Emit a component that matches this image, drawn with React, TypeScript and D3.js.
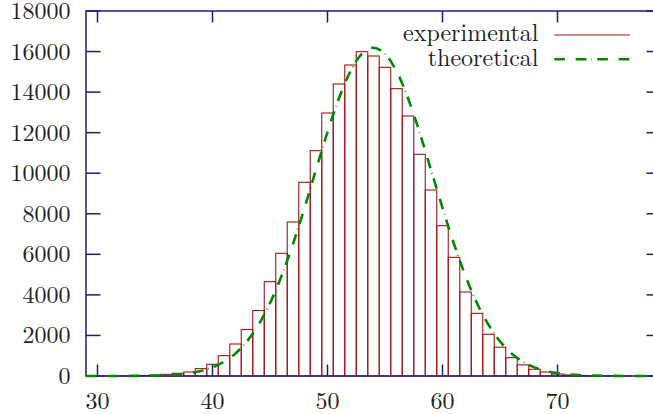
import React from "react";
import * as d3 from "d3";

// Histogram bins (bin centres) and experimental counts
const binCenters = [
  30, 31, 32, 33, 34, 35, 36, 37, 38, 39, 40, 41, 42, 43, 44, 45, 46, 47, 48, 49,
  50, 51, 52, 53, 54, 55, 56, 57, 58, 59, 60, 61, 62, 63, 64, 65, 66, 67, 68, 69,
  70, 71, 72, 73, 74, 75, 76,
];
const experimental = [
  1, 3, 6, 12, 25, 49, 82, 133, 197, 362, 577, 1001, 1578, 2290, 3230, 4652, 6050, 7595, 9552, 11112,
  12970, 14400, 15337, 15995, 15781, 15222, 14170, 12822, 10932, 9173, 7414, 5852, 4142, 3090, 2055, 1420, 904, 550, 329, 197,
  99, 49, 25, 12, 6, 3, 1,
];

// Theoretical curve, read at integer x
const theoryX = [
  29, 30, 31, 32, 33, 34, 35, 36, 37, 38, 39, 40, 41, 42, 43, 44, 45, 46, 47, 48,
  49, 50, 51, 52, 53, 54, 55, 56, 57, 58, 59, 60, 61, 62, 63, 64, 65, 66, 67, 68,
  69, 70, 71, 72, 73, 74, 75, 76, 77, 78, 79,
];
const theoretical = [
  0, 0, 0, 2, 5, 10, 20, 39, 75, 139, 247, 424, 700, 1114, 1710, 2526, 3590, 4930, 6510, 8290,
  10170, 12030, 13700, 15030, 15890, 16190, 15890, 15030, 13700, 12030, 10170, 8290, 6510, 4930, 3590, 2526, 1710, 1114, 700, 424,
  247, 139, 75, 39, 20, 10, 5, 2, 0, 0, 0,
];

const xTicks = [30, 40, 50, 60, 70];
const yTicks = [0, 2000, 4000, 6000, 8000, 10000, 12000, 14000, 16000, 18000];
const legendLabels = ["experimental", "theoretical"];

const W = 653;
const H = 414;
const FONT = "'Latin Modern Roman', 'CMU Serif', 'Liberation Serif', serif";
const AXIS = "#1c1c7e";
const RED = "#a81414";
const GREEN = "#008a00";

export default function App() {
  const x = d3.scaleLinear().domain([29, 79]).range([86, 661]);
  const y = d3.scaleLinear().domain([0, 18000]).range([376, 11]);

  const line = d3
    .line<number>()
    .x((_, i) => x(theoryX[i]))
    .y((d) => y(d))
    .curve(d3.curveCatmullRom);

  const [x0, x1] = x.range();
  const [yb, yt] = y.range();

  return (
    <svg
      width={W}
      height={H}
      style={{ position: "absolute", left: 0, top: 0, display: "block", background: "#fff" }}
    >
      {/* bars */}
      <g>
        {binCenters.map((c, i) => {
          const xa = x(c - 0.5);
          const xb = x(c + 0.5);
          const yv = y(experimental[i]);
          return (
            <rect
              key={c}
              x={xa}
              y={yv}
              width={xb - xa}
              height={yb - yv}
              fill="none"
              stroke={RED}
              strokeWidth={1.1}
            />
          );
        })}
      </g>

      {/* border */}
      <rect x={x0} y={yt} width={x1 - x0} height={yb - yt} fill="none" stroke={AXIS} strokeWidth={1.5} />

      {/* x ticks */}
      {xTicks.map((t) => (
        <g key={"x" + t}>
          <line x1={x(t)} x2={x(t)} y1={yb} y2={yb - 11.5} stroke={AXIS} strokeWidth={1.5} />
          <line x1={x(t)} x2={x(t)} y1={yt} y2={yt + 11.5} stroke={AXIS} strokeWidth={1.5} />
          <text x={x(t)} y={408.5} textAnchor="middle" fontFamily={FONT} fontSize={24} fill="#222">
            {t}
          </text>
        </g>
      ))}

      {/* y ticks */}
      {yTicks.map((t) => (
        <g key={"y" + t}>
          <line x1={x0} x2={x0 + 14.5} y1={y(t)} y2={y(t)} stroke={AXIS} strokeWidth={1.5} />
          <line x1={x1} x2={x1 - 14.5} y1={y(t)} y2={y(t)} stroke={AXIS} strokeWidth={1.5} />
          <text x={70.5} y={y(t) + 8} textAnchor="end" fontFamily={FONT} fontSize={24} fill="#222">
            {t}
          </text>
        </g>
      ))}

      {/* theoretical curve */}
      <path
        d={line(theoretical) || ""}
        fill="none"
        stroke={GREEN}
        strokeWidth={2.6}
        strokeDasharray="10.7,10.7,10.7,5.1,0.6,5.1"
      />

      {/* legend */}
      <g fontFamily={FONT} fontSize={24} fill="#222">
        <text x={538.5} y={41} textAnchor="end">
          {legendLabels[0]}
        </text>
        <line x1={554.3} x2={630} y1={35} y2={35} stroke={RED} strokeWidth={1.1} />
        <text x={538.5} y={65.5} textAnchor="end">
          {legendLabels[1]}
        </text>
        <line
          x1={554.3}
          x2={630}
          y1={59.3}
          y2={59.3}
          stroke={GREEN}
          strokeWidth={2.6}
          strokeDasharray="10.7,10.7,10.7,5.1,0.6,5.1"
        />
      </g>
    </svg>
  );
}
